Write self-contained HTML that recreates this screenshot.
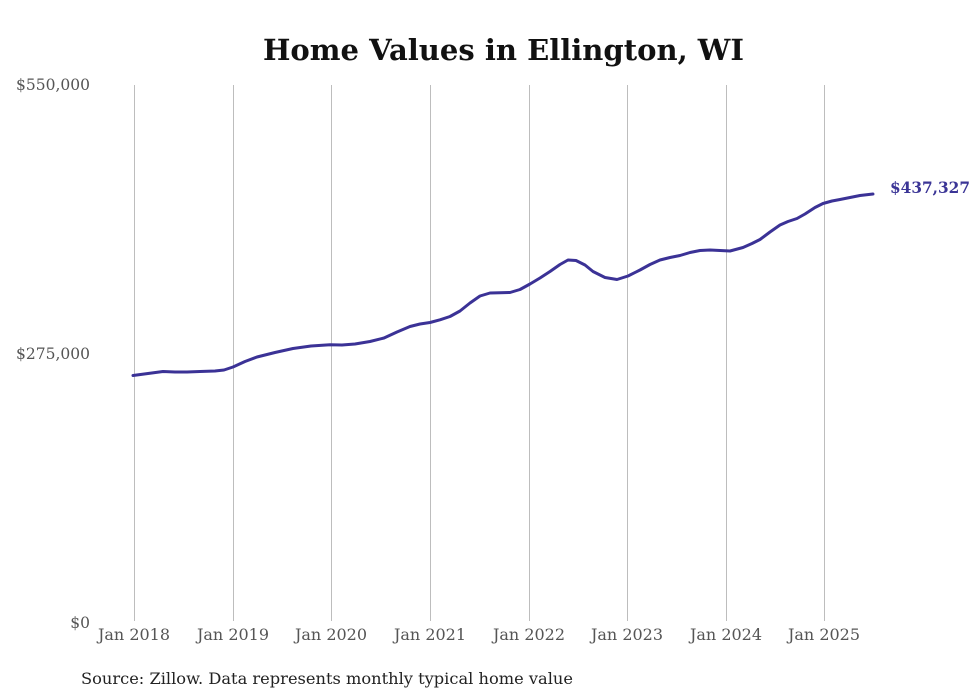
<!DOCTYPE html>
<html>
<head>
<meta charset="utf-8">
<style>
  html, body { margin: 0; padding: 0; background: #ffffff; }
  svg { display: block; }
</style>
</head>
<body>
<svg width="980" height="699" viewBox="0 0 980 699" xmlns="http://www.w3.org/2000/svg">
  <rect x="0" y="0" width="980" height="699" fill="#ffffff"/>
  <!-- title -->
  <text x="263" y="60" font-family="DejaVu Serif, Liberation Serif, serif" font-weight="bold" font-size="29" fill="#111" textLength="481" lengthAdjust="spacingAndGlyphs">Home Values in Ellington, WI</text>

  <!-- vertical gridlines -->
  <g stroke="#bdbdbd" stroke-width="1" shape-rendering="crispEdges">
    <line x1="134.5" y1="85" x2="134.5" y2="621"/>
    <line x1="233.5" y1="85" x2="233.5" y2="621"/>
    <line x1="331.5" y1="85" x2="331.5" y2="621"/>
    <line x1="430.5" y1="85" x2="430.5" y2="621"/>
    <line x1="529.5" y1="85" x2="529.5" y2="621"/>
    <line x1="627.5" y1="85" x2="627.5" y2="621"/>
    <line x1="726.5" y1="85" x2="726.5" y2="621"/>
    <line x1="824.5" y1="85" x2="824.5" y2="621"/>
  </g>

  <!-- y labels -->
  <g font-family="DejaVu Serif, Liberation Serif, serif" font-size="15.5" fill="#555" text-anchor="end">
    <text x="90" y="90">$550,000</text>
    <text x="90" y="359">$275,000</text>
    <text x="90" y="628">$0</text>
  </g>

  <!-- x labels -->
  <g font-family="DejaVu Serif, Liberation Serif, serif" font-size="16" fill="#555" text-anchor="middle">
    <text x="134" y="640">Jan 2018</text>
    <text x="233" y="640">Jan 2019</text>
    <text x="331" y="640">Jan 2020</text>
    <text x="430" y="640">Jan 2021</text>
    <text x="529" y="640">Jan 2022</text>
    <text x="627" y="640">Jan 2023</text>
    <text x="726" y="640">Jan 2024</text>
    <text x="824" y="640">Jan 2025</text>
  </g>

  <!-- series -->
  <polyline fill="none" stroke="#3b3296" stroke-width="3" stroke-linejoin="round" stroke-linecap="round"
    points="133,375.5 148,373.5 163,371.5 175,372 187,372 200,371.5 215,371 224,370 233,367 245,361.5 257,357 275,352.5 293,348.5 311,346 330,344.7 342,345 355,344 370,341.5 384,338 397,332 410,326.5 420,324 430,322.5 440,319.8 450,316.5 460,311 470,303 480,296 490,293 500,292.7 510,292.5 520,289.5 530,284 540,278 550,271.5 560,264.5 568,260 576,260.5 585,265 593,271.5 605,277.5 617,279.5 628,276 640,270 650,264.5 660,260 670,257.5 680,255.5 690,252.5 700,250.5 710,250 720,250.5 730,251 743,247.5 752,243.5 760,239.5 770,232 780,225 788,221.5 797,218.5 805,214 815,207.5 823,203.5 832,201 840,199.5 850,197.5 860,195.5 873,194"/>

  <!-- end label -->
  <text x="890" y="193" font-family="DejaVu Serif, Liberation Serif, serif" font-weight="bold" font-size="16" fill="#3b3596" textLength="80" lengthAdjust="spacingAndGlyphs">$437,327</text>

  <!-- source -->
  <text x="81" y="684" font-family="DejaVu Serif, Liberation Serif, serif" font-size="16" fill="#222" textLength="492" lengthAdjust="spacingAndGlyphs">Source: Zillow. Data represents monthly typical home value</text>
</svg>
</body>
</html>
